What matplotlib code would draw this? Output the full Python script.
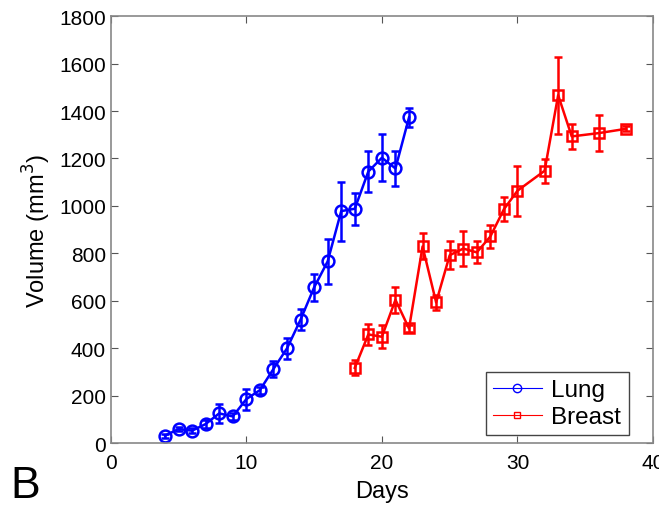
import matplotlib.pyplot as plt
from matplotlib.lines import Line2D

plt.rcParams['font.family'] = ['Liberation Sans', 'DejaVu Sans']

# Lung tumour volumes
lung_days = [4, 5, 6, 7, 8, 9, 10, 11, 12, 13, 14, 15, 16, 17, 18, 19, 20, 21, 22]
lung_vol = [31, 59, 52, 80, 125, 112, 185, 223, 312, 399, 520, 656, 766, 978, 988, 1145, 1203, 1158, 1373]
lung_err = [8, 10, 10, 15, 40, 15, 44, 15, 35, 45, 45, 56, 94, 124, 68, 88, 100, 75, 40]

# Breast tumour volumes
breast_days = [18, 19, 20, 21, 22, 23, 24, 25, 26, 27, 28, 29, 30, 32, 33, 34, 36, 38]
breast_vol = [317, 458, 448, 604, 483, 829, 593, 792, 820, 804, 871, 986, 1064, 1148, 1467, 1293, 1307, 1325]
breast_err = [32, 44, 48, 56, 15, 55, 32, 60, 74, 46, 48, 51, 105, 50, 163, 51, 77, 10]

fig = plt.figure(figsize=(6.59, 5.06), dpi=100)
ax = fig.add_axes([0.168, 0.1225, 0.823, 0.8435])

ax.errorbar(lung_days, lung_vol, yerr=lung_err, color='#0000ff', marker='o', ms=8.5,
            mfc='none', mew=1.8, lw=1.8, elinewidth=1.8, capsize=3, capthick=1.8)
ax.errorbar(breast_days, breast_vol, yerr=breast_err, color='#ff0000', marker='s', ms=7.5,
            mfc='none', mew=1.8, lw=1.8, elinewidth=1.8, capsize=3, capthick=1.8)

ax.set_xlim(0, 40)
ax.set_ylim(0, 1800)
ax.set_xticks([0, 10, 20, 30, 40])
ax.set_yticks(range(0, 1801, 200))
ax.tick_params(direction='in', top=True, right=True, labelsize=15, length=5, color='#555555')
ax.tick_params(axis='x', pad=7)
for s in ax.spines.values():
    s.set_color('#888888')
    s.set_linewidth(1.2)

ax.set_xlabel('Days', fontsize=17, labelpad=6)
ax.set_ylabel('Volume (mm$^3$)', fontsize=17)

handles = [Line2D([], [], color='#0000ff', marker='o', mfc='none', ms=6, lw=0.8),
           Line2D([], [], color='#ff0000', marker='s', mfc='none', ms=5, lw=0.8)]
leg = ax.legend(handles, ['Lung', 'Breast'], loc='lower right', fontsize=17.5,
                fancybox=False, framealpha=1, edgecolor='#444444',
                bbox_to_anchor=(0.955, 0.018), handlelength=2.0, borderpad=0.3,
                labelspacing=0.2, handletextpad=0.4, borderaxespad=0)
leg.get_frame().set_linewidth(1.0)

fig.text(0.015, 0.015, 'B', fontsize=32)

fig.savefig('out.png', dpi=100)
